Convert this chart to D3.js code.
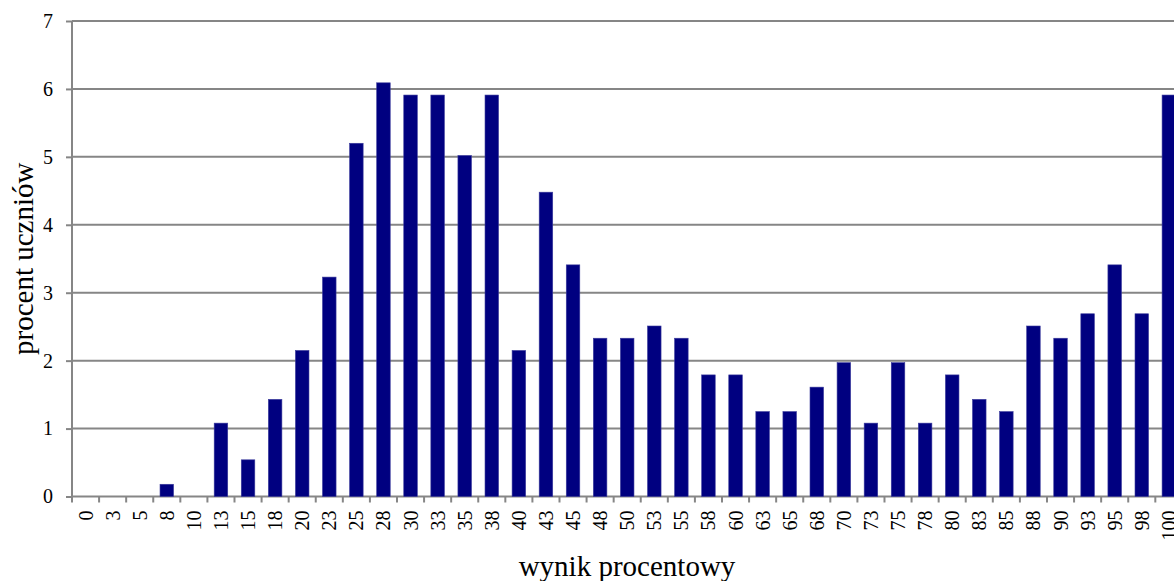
<!DOCTYPE html>
<html>
<head>
<meta charset="utf-8">
<script src="https://cdn.jsdelivr.net/npm/d3@7"></script>
<style>
  html, body { margin: 0; padding: 0; background: #fff; }
  svg { display: block; }
  text { font-family: "Liberation Serif", "Times New Roman", serif; fill: #000; }
</style>
</head>
<body>
<svg id="chart" width="1174" height="581"></svg>
<script>
// Score categories (percent result) and share of students in each
const categories = ["0","3","5","8","10","13","15","18","20","23","25","28","30","33","35","38","40","43","45","48","50","53","55","58","60","63","65","68","70","73","75","78","80","83","85","88","90","93","95","98","100"];
const percentStudents = [0,0,0,0.18,0,1.08,0.54,1.43,2.15,3.23,5.20,6.09,5.91,5.91,5.02,5.91,2.15,4.48,3.41,2.33,2.33,2.51,2.33,1.79,1.79,1.25,1.25,1.61,1.97,1.08,1.97,1.08,1.79,1.43,1.25,2.51,2.33,2.69,3.41,2.69,5.91];
const yTicks = [0,1,2,3,4,5,6,7];

const xTitle = "wynik procentowy";
const yTitle = "procent uczniów";

const svg = d3.select("#chart");
const plotLeft = 72, plotRight = 1182.4, plotTop = 21, plotBottom = 496.5;
const gridColor = "#868686";
const serif = '"Liberation Serif", "Times New Roman", serif';

const x = d3.scaleBand()
  .domain(categories)
  .range([plotLeft, plotRight])
  .paddingInner(0.5)
  .paddingOuter(0.25);

const y = d3.scaleLinear().domain([0, 7]).range([plotBottom, plotTop]);

// horizontal gridlines
svg.append("g")
  .selectAll("line")
  .data(yTicks)
  .join("line")
  .attr("x1", plotLeft).attr("x2", plotRight)
  .attr("y1", d => y(d)).attr("y2", d => y(d))
  .attr("stroke", gridColor).attr("stroke-width", 2);

// bars
svg.append("g")
  .selectAll("rect")
  .data(categories.map((c, i) => ({ c, v: percentStudents[i] })))
  .join("rect")
  .attr("x", d => x(d.c))
  .attr("width", x.bandwidth())
  .attr("y", d => y(d.v))
  .attr("height", d => y(0) - y(d.v))
  .attr("fill", "#000080")
  .attr("stroke", "#3b3b9c")
  .attr("stroke-width", 0.6);

// y axis
const yAxis = svg.append("g")
  .attr("transform", `translate(${plotLeft},0)`)
  .attr("font-family", null)
  .attr("font-size", null)
  .call(d3.axisLeft(y).tickValues(yTicks).tickFormat(d3.format("d")).tickSize(6).tickPadding(13));
yAxis.select(".domain").attr("stroke", gridColor).attr("stroke-width", 2).attr("d", `M0,${plotTop}V${plotBottom}`);
yAxis.selectAll(".tick line").attr("stroke", gridColor).attr("stroke-width", 2);
yAxis.selectAll(".tick text")
  .style("font-family", serif)
  .style("font-size", "20px")
  .attr("fill", "#000");

// x axis: category boundaries carry the tick marks, labels sit at band centres
const step = x.step();
const boundaries = d3.range(categories.length + 1).map(i => plotLeft + i * step);
svg.append("g")
  .selectAll("line")
  .data(boundaries)
  .join("line")
  .attr("x1", d => d).attr("x2", d => d)
  .attr("y1", plotBottom).attr("y2", plotBottom + 6)
  .attr("stroke", gridColor).attr("stroke-width", 2);

svg.append("g")
  .selectAll("text")
  .data(categories)
  .join("text")
  .attr("transform", d => `translate(${x(d) + x.bandwidth() / 2},${plotBottom + 14}) rotate(-90)`)
  .attr("text-anchor", "end")
  .attr("dominant-baseline", "central")
  .style("font-family", serif)
  .style("font-size", "20px")
  .text(d => d);

// axis titles
svg.append("text")
  .attr("x", 627).attr("y", 576)
  .attr("text-anchor", "middle")
  .style("font-family", serif)
  .style("font-size", "29px")
  .text(xTitle);

svg.append("text")
  .attr("transform", `translate(33,${(plotTop + plotBottom) / 2}) rotate(-90)`)
  .attr("text-anchor", "middle")
  .style("font-family", serif)
  .style("font-size", "29px")
  .text(yTitle);
</script>
</body>
</html>
